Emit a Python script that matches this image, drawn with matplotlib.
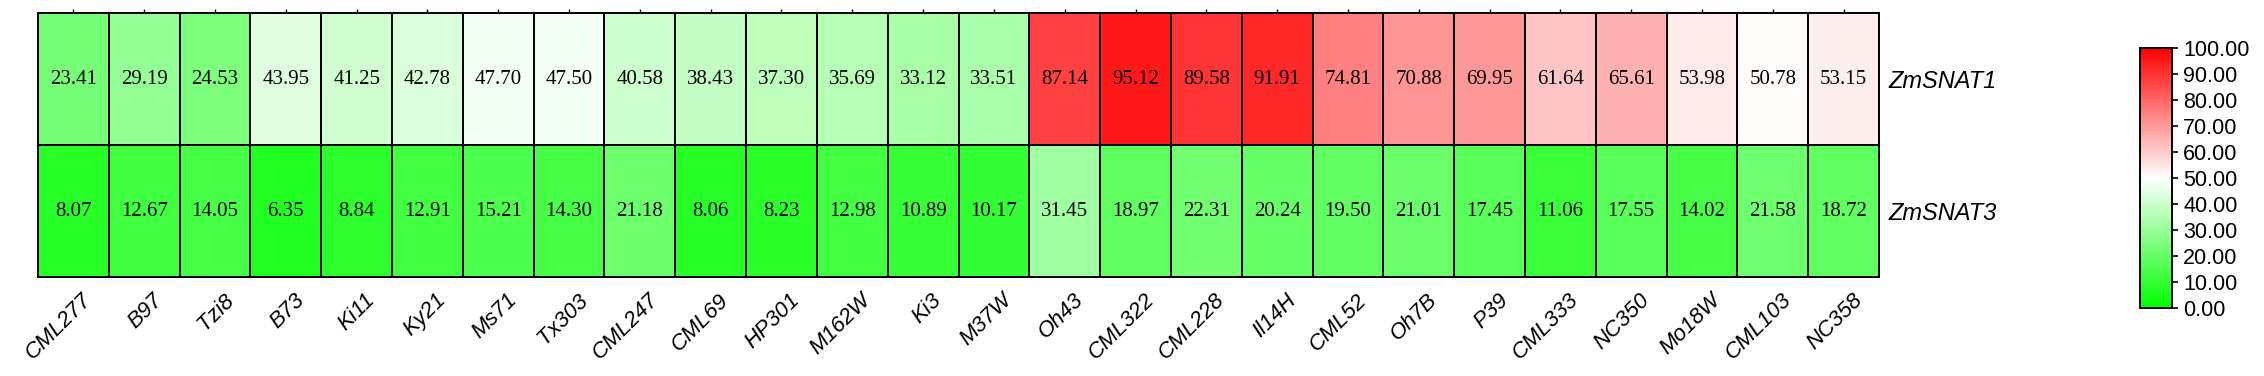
import numpy as np
import matplotlib
matplotlib.use("Agg")
import matplotlib.pyplot as plt
import matplotlib.transforms as mtrans
from matplotlib.colors import LinearSegmentedColormap

lines = ["CML277", "B97", "Tzi8", "B73", "Ki11", "Ky21", "Ms71", "Tx303",
         "CML247", "CML69", "HP301", "M162W", "Ki3", "M37W", "Oh43",
         "CML322", "CML228", "Il14H", "CML52", "Oh7B", "P39", "CML333",
         "NC350", "Mo18W", "CML103", "NC358"]
genes = ["ZmSNAT1", "ZmSNAT3"]

snat1 = [23.41, 29.19, 24.53, 43.95, 41.25, 42.78, 47.70, 47.50, 40.58,
         38.43, 37.30, 35.69, 33.12, 33.51, 87.14, 95.12, 89.58, 91.91,
         74.81, 70.88, 69.95, 61.64, 65.61, 53.98, 50.78, 53.15]
snat3 = [8.07, 12.67, 14.05, 6.35, 8.84, 12.91, 15.21, 14.30, 21.18,
         8.06, 8.23, 12.98, 10.89, 10.17, 31.45, 18.97, 22.31, 20.24,
         19.50, 21.01, 17.45, 11.06, 17.55, 14.02, 21.58, 18.72]

data = np.array([snat1, snat3])
cmap = LinearSegmentedColormap.from_list("gwr", ["#00ff00", "#ffffff", "#ff0000"])

W, H = 2264., 376.
fig = plt.figure(figsize=(W / 100, H / 100), dpi=100)
# heatmap box: x 38..1879, y 13..277 (pixels)
ax = fig.add_axes([38 / W, 1 - 277 / H, (1879 - 38) / W, (277 - 13) / H])
mesh = ax.pcolormesh(data, cmap=cmap, vmin=0, vmax=100,
                     edgecolors="black", linewidth=1.4)
ax.set_xlim(0, len(lines))
ax.set_ylim(len(genes), 0)

# cell values
for i in range(data.shape[0]):
  for j in range(data.shape[1]):
    ax.text(j + 0.5, i + 0.5, "%.2f" % data[i, j], ha="center", va="center",
            fontsize=15, family="Liberation Serif")

ax.set_xticks(np.arange(len(lines)) + 0.5)
ax.set_xticklabels(lines, rotation=45, ha="right", va="top",
                   rotation_mode="anchor", fontsize=16, style="italic",
                   family="Liberation Sans")
ax.tick_params(axis="x", length=3, width=1, pad=6, top=True, bottom=False,
               labelbottom=True, labeltop=False)
shift = mtrans.ScaledTranslation(8 / 100., 0, fig.dpi_scale_trans)
for t in ax.get_xticklabels():
  t.set_transform(t.get_transform() + shift)

ax.set_yticks(np.arange(len(genes)) + 0.5)
ax.set_yticklabels(genes, fontsize=17, style="italic", family="Liberation Sans")
ax.yaxis.tick_right()
ax.tick_params(axis="y", length=0, pad=7)
for s in ax.spines.values():
  s.set_linewidth(1.4)

# colorbar
cax = fig.add_axes([2140 / W, 1 - 308 / H, 32 / W, 260 / H])
cb = fig.colorbar(mesh, cax=cax, ticks=np.arange(0, 101, 10), format="%.2f")
cb.outline.set_linewidth(1.4)
cax.tick_params(length=4, width=1.2, labelsize=15.5, pad=4)
for t in cax.get_yticklabels():
  t.set_family("Liberation Sans")

plt.savefig("out.png", dpi=100)
